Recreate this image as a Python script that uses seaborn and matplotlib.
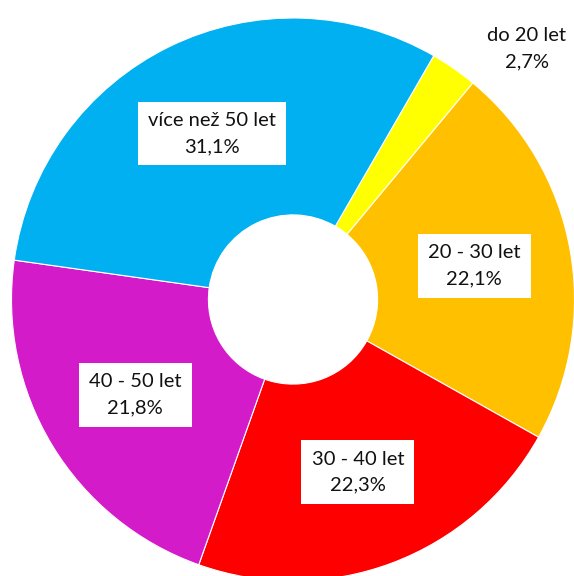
import seaborn as sns
import matplotlib.pyplot as plt
import numpy as np

# Data
kategorie = ['do 20 let', '20 - 30 let', '30 - 40 let', '40 - 50 let', 'více než 50 let']
podily = [2.7, 22.1, 22.3, 21.8, 31.1]
barvy = ['#FFFF00', '#FFC000', '#FF0000', '#D41BC9', '#00B0F0']

sns.set_theme(style='white')
plt.rcParams['font.family'] = ['Lato', 'DejaVu Sans']

fig = plt.figure(figsize=(5.74, 5.76), dpi=100)
ax = fig.add_axes([0, 0, 1, 1])

R = 281.5          # vnejsi polomer v pixelech
cx, cy = 293, 299.5  # stred v pixelech
zacatek = 60       # uhel, kde zacina prvni vysec
ax.pie(podily, colors=barvy, startangle=zacatek, counterclock=False, radius=1.0,
       wedgeprops=dict(width=1 - 84.6 / R, edgecolor='white', linewidth=0.8))

# Popisky
styl = dict(ha='center', va='center', fontsize=14.5, color='#111111', linespacing=1.65)
celkem = sum(podily)
uhel = zacatek
for i, (kat, p) in enumerate(zip(kategorie, podily)):
    stred = np.deg2rad(uhel - p / celkem * 360 / 2)
    uhel -= p / celkem * 360
    text = f'{kat}\n{p:.1f}%'.replace('.', ',')
    if i == 0:
        # maly dilek - popisek mimo prstenec
        a = np.deg2rad(90 - 43)
        ax.text(1.218 * np.cos(a), 1.218 * np.sin(a), text, **styl)
    else:
        r = 0.655
        ax.text(r * np.cos(stred), r * np.sin(stred), text, **styl,
                bbox=dict(boxstyle='square,pad=0.5', fc='white', ec='none'))

ax.set_xlim(-cx / R, (574 - cx) / R)
ax.set_ylim(-(576 - cy) / R, cy / R)
ax.set_aspect('auto')
ax.axis('off')

fig.savefig('out.png', dpi=100)
